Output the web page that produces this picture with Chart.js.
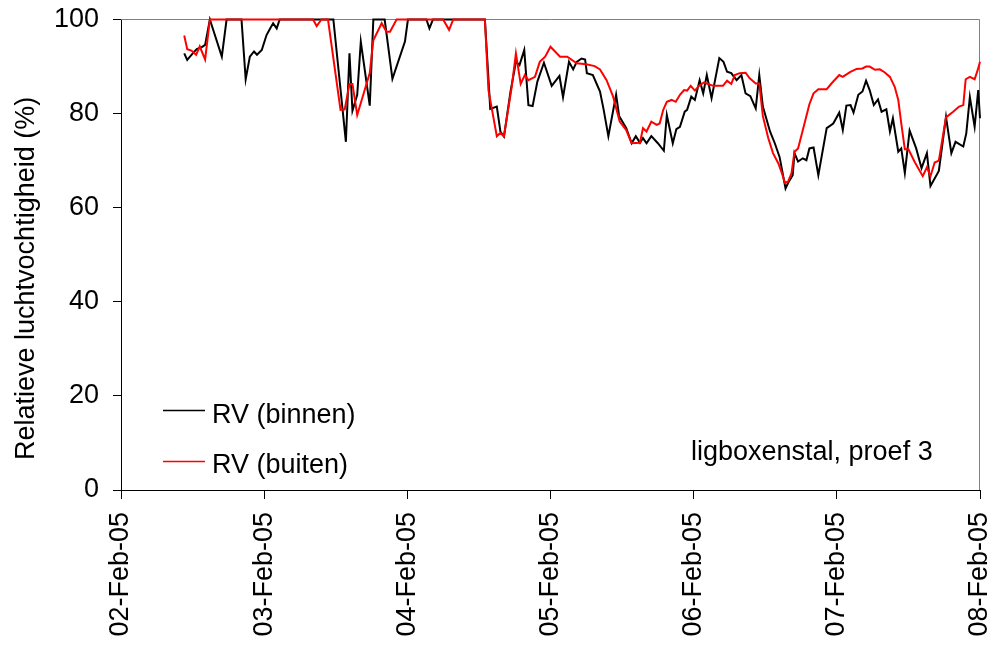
<!DOCTYPE html>
<html>
<head>
<meta charset="utf-8">
<script src="https://cdn.jsdelivr.net/npm/chart.js@4/dist/chart.umd.min.js"></script>
<style>
  html, body { margin: 0; padding: 0; background: #fff; }
  #wrap { width: 995px; height: 648px; }
</style>
</head>
<body>
<div id="wrap"><canvas id="graph--rv" width="995" height="648"></canvas></div>
<script>
// Tick labels along the x-axis, one per day (x is hours since 02-Feb-05 00:00)
const dayLabels = ['02-Feb-05', '03-Feb-05', '04-Feb-05', '05-Feb-05', '06-Feb-05', '07-Feb-05', '08-Feb-05']
const yTicks = [0, 20, 40, 60, 80, 100]

// RV (binnen): hour, relative humidity (%)
const binnenHours = [10.6, 11.1, 12.1, 12.7, 13.5, 14.1, 14.9, 16.9, 17.7, 20.2, 20.9, 21.6, 22.3, 22.8, 23.6, 24.4, 25.0, 25.5, 26.1, 26.6,
  35.6, 37.7, 38.3, 38.8, 39.6, 40.2, 41.7, 42.3, 44.2, 45.5, 47.6, 48.1, 51.2, 51.7, 52.3, 61.0,
  61.9, 63.0, 63.6, 64.2, 65.3, 66.2, 66.8, 67.6, 68.3, 69.0, 69.8, 70.9, 72.2, 73.5, 74.1, 75.1, 75.8, 76.4, 77.2, 77.8,
  78.1, 79.1, 80.3, 80.9, 81.7, 83.0, 83.5, 84.7, 85.6, 86.3, 87.0, 87.5, 88.1, 88.9, 90.0, 91.0, 91.5, 92.5, 93.1, 93.7,
  94.5, 94.9, 95.6, 96.2, 97.0, 97.6, 98.2, 99.0, 100.3, 101.0, 101.6, 102.3, 103.2, 104.0, 104.7, 105.5, 106.4, 107.0,
  107.6, 108.8, 109.6, 110.4, 111.4, 111.8, 112.6, 112.9, 113.5, 114.3, 114.9, 115.4, 116.1, 116.9, 118.3, 119.4, 120.4,
  121.0, 121.6, 122.3, 122.8, 123.6, 124.3, 124.9, 125.5, 126.2, 126.9, 127.5, 128.3, 128.9, 129.4, 130.3, 130.8, 131.4,
  132.2, 133.3, 134.2, 135.1, 135.7, 137.1, 138.3, 139.2, 139.9, 141.2, 141.7, 142.3, 143.1, 143.7, 144.0]
const binnenValues = [92.8, 91.4, 92.9, 93.7, 94.1, 94.6, 100, 92.1, 100, 100, 87.3, 92.1, 93.2, 92.5, 93.5, 96.7, 98.1, 99.2, 98.1, 100,
  100, 74.0, 92.8, 80.6, 84.0, 95.3, 81.7, 100, 100, 87.4, 95.3, 100, 100, 98.1, 100, 100,
  81.0, 81.5, 76.2, 75.1, 84.7, 91.0, 90.3, 93.5, 81.8, 81.6, 86.8, 90.8, 85.9, 88.0, 83.5, 91.0, 89.4, 91.0, 91.7, 91.5,
  88.6, 88.2, 84.7, 80.9, 75.2, 84.0, 79.5, 76.9, 73.7, 75.2, 73.8, 74.8, 73.7, 75.2, 73.7, 72.1, 79.7, 73.7, 76.7, 77.2,
  80.4, 80.8, 83.6, 82.9, 87.1, 84.3, 88.2, 83.3, 91.8, 91.0, 88.9, 88.6, 87.1, 88.2, 84.3, 83.7, 81.1, 88.2,
  81.5, 76.2, 73.7, 70.8, 64.1, 65.2, 66.9, 71.6, 69.8, 70.5, 70.1, 72.6, 72.8, 66.9, 76.9, 77.9, 80.2,
  76.5, 81.7, 81.8, 80.2, 84.0, 84.7, 87.0, 85.0, 81.8, 83.0, 80.4, 80.9, 76.2, 79.0, 71.9, 72.6, 67.4,
  76.4, 72.6, 68.4, 71.6, 64.6, 67.8, 79.3, 71.6, 74.0, 73.0, 75.8, 83.5, 77.2, 85.0, 79.0]

// RV (buiten): hour, relative humidity (%)
const buitenHours = [10.6, 11.1, 11.8, 12.6, 13.2, 14.1, 14.9, 32.2, 32.8, 33.6, 34.7, 36.8, 37.5, 38.3, 38.8, 39.6, 41.7, 42.3,
  43.7, 44.5, 45.1, 46.2, 54.0, 55.0, 55.7, 61.0, 61.6, 63.0, 63.6, 64.2, 65.5, 66.2, 67.0, 67.7, 68.3, 69.4, 70.2, 71.1,
  72.0, 73.6, 74.8, 76.4, 78.0, 79.4, 80.3, 81.4, 82.5, 83.6, 84.7, 85.6, 87.0, 87.5, 88.1, 88.9, 89.8, 90.3, 90.9, 91.5,
  92.3, 93.0, 93.7, 94.4, 94.9, 95.5, 96.2, 96.9, 97.7, 98.4, 99.3, 100.9, 101.6, 102.3, 102.9, 103.7, 104.7, 105.4, 106.4,
  107.0, 107.6, 108.5, 109.3, 110.2, 110.8, 111.3, 111.8, 112.4, 112.9, 113.5, 114.3, 115.4, 116.1, 116.9, 118.3, 119.1,
  120.4, 121.0, 122.2, 123.3, 124.3, 124.9, 125.5, 126.4, 127.2, 128.0, 128.9, 129.7, 130.3, 130.8, 131.4, 132.0, 133.1,
  134.4, 135.1, 135.7, 136.4, 137.1, 138.3, 139.5, 140.5, 141.2, 141.6, 142.3, 143.1, 143.7, 144.0]
const buitenValues = [96.6, 93.7, 93.4, 92.5, 94.3, 91.5, 100, 100, 98.6, 100, 100, 80.8, 80.9, 86.3, 86.3, 79.7, 88.6, 95.6,
  99.2, 97.4, 97.4, 100, 100, 97.8, 100, 100, 85.0, 75.2, 75.9, 75.2, 85.7, 92.8, 86.3, 88.2, 87.1, 87.8, 91.0, 92.1,
  94.2, 92.1, 92.1, 90.7, 90.5, 90.1, 89.4, 87.1, 83.6, 78.3, 76.5, 73.7, 73.8, 76.9, 76.2, 78.3, 77.6, 77.9, 80.8, 82.5,
  82.9, 82.5, 84.0, 85.0, 84.9, 85.9, 84.9, 85.9, 86.6, 86.3, 85.9, 85.9, 87.0, 86.3, 88.2, 88.6, 88.7, 87.5, 86.4,
  86.4, 79.5, 74.8, 71.6, 69.4, 67.3, 65.3, 65.5, 67.3, 71.9, 72.6, 76.5, 82.0, 84.3, 85.2, 85.2, 86.4,
  88.2, 87.8, 88.8, 89.5, 89.6, 90.0, 90.0, 89.3, 89.4, 88.8, 87.8, 85.7, 82.9, 77.9, 72.4, 72.4, 69.6,
  66.7, 68.6, 66.7, 69.6, 70.0, 79.2, 80.4, 81.5, 81.8, 87.3, 87.8, 87.3, 89.6, 91.0]

const FONT = 'Liberation Sans, Arial, sans-serif'
const rv = document.querySelector('#graph--rv')

function toPoints(hours, values) {
  return hours.map((h, i) => ({ x: h, y: values[i] }))
}

// plot frame, in-plot legend, note and axis title
const extras = {
  id: 'extras',
  beforeDatasetsDraw(chart) {
    const ctx = chart.ctx
    const a = chart.chartArea
    ctx.save()
    ctx.strokeStyle = '#808080'
    ctx.lineWidth = 1
    ctx.beginPath()
    ctx.moveTo(a.left, a.top)
    ctx.lineTo(a.right - 0.5, a.top)
    ctx.lineTo(a.right - 0.5, a.bottom)
    ctx.stroke()
    ctx.restore()
  },
  afterDraw(chart) {
    const ctx = chart.ctx
    ctx.save()
    ctx.font = '27px ' + FONT
    ctx.fillStyle = '#000'
    ctx.textBaseline = 'alphabetic'
    ctx.textAlign = 'left'
    ctx.lineWidth = 1.5
    ctx.strokeStyle = '#000'
    ctx.beginPath(); ctx.moveTo(163, 410.5); ctx.lineTo(205, 410.5); ctx.stroke()
    ctx.fillText('RV (binnen)', 212, 422.5)
    ctx.strokeStyle = '#ff0000'
    ctx.beginPath(); ctx.moveTo(163, 461.5); ctx.lineTo(205, 461.5); ctx.stroke()
    ctx.fillText('RV (buiten)', 212, 473)
    ctx.fillText('ligboxenstal, proef 3', 691, 459.5)
    ctx.translate(33.5, 460)
    ctx.rotate(-Math.PI / 2)
    ctx.fillText('Relatieve luchtvochtigheid (%)', 0, 0)
    ctx.restore()
  }
}

const rvChart = new Chart(rv, {
  type: 'line',
  data: {
    datasets: [
      {
        label: 'RV (binnen)',
        data: toPoints(binnenHours, binnenValues),
        borderColor: '#000000',
        borderWidth: 2,
        pointRadius: 0,
        fill: false,
        order: 1,
        clip: 4
      },
      {
        label: 'RV (buiten)',
        data: toPoints(buitenHours, buitenValues),
        borderColor: '#ff0000',
        borderWidth: 2,
        pointRadius: 0,
        fill: false,
        order: 0,
        clip: 4
      }
    ]
  },
  options: {
    responsive: false,
    animation: false,
    devicePixelRatio: 1,
    layout: { padding: { left: 0, top: 19.5, right: 15, bottom: 0 } },
    plugins: {
      legend: { display: false },
      tooltip: { enabled: false }
    },
    scales: {
      x: {
        type: 'linear',
        min: 0,
        max: 144,
        afterFit: (scale) => {
          scale.height = 158
          scale.paddingLeft = 0
          scale.paddingRight = 0
        },
        afterBuildTicks: (scale) => { scale.ticks = dayLabels.map((d, i) => ({ value: i * 24 })) },
        border: { display: true, color: '#000', width: 1 },
        grid: { drawOnChartArea: false, drawTicks: true, tickLength: 9, color: '#000', lineWidth: 1 },
        ticks: {
          autoSkip: false,
          minRotation: 90,
          maxRotation: 90,
          padding: 13,
          color: '#000',
          font: { family: FONT, size: 27, lineHeight: 1 },
          callback: (v) => dayLabels[Math.round(v / 24)]
        }
      },
      y: {
        min: 0,
        max: 100,
        afterFit: (scale) => {
          scale.width = 121
          scale.paddingTop = 0
          scale.paddingBottom = 0
        },
        afterBuildTicks: (scale) => { scale.ticks = yTicks.map(v => ({ value: v })) },
        border: { display: true, color: '#000', width: 1 },
        grid: { drawOnChartArea: false, drawTicks: true, tickLength: 8, color: '#000', lineWidth: 1 },
        ticks: {
          padding: 14,
          color: '#000',
          font: { family: FONT, size: 27 }
        }
      }
    }
  },
  plugins: [extras]
})
</script>
</body>
</html>
